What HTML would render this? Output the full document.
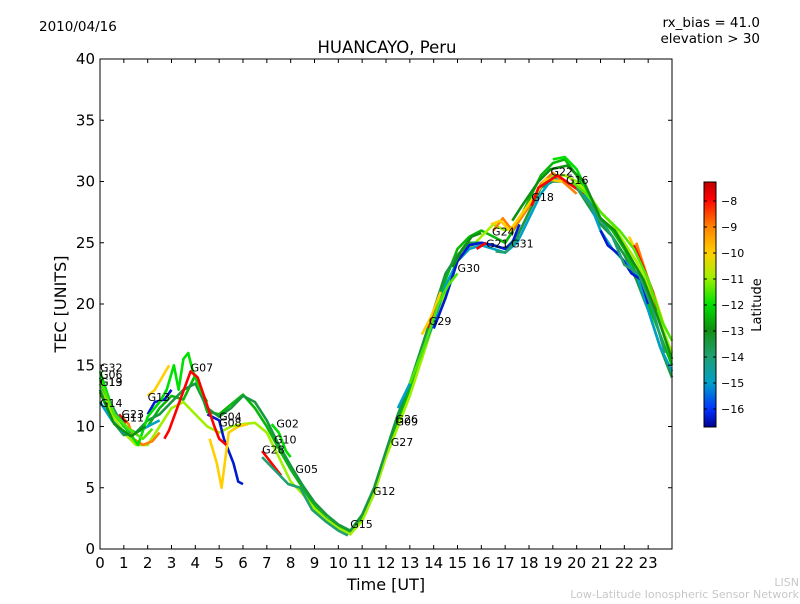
<!DOCTYPE html>
<html><head><meta charset="utf-8"><style>
body{margin:0;background:#fff;width:800px;height:600px;overflow:hidden;font-family:"DejaVu Sans","Liberation Sans",sans-serif}
svg text{font-family:"DejaVu Sans","Liberation Sans",sans-serif}
</style></head><body>
<svg id="chart" width="800" height="600" viewBox="0 0 800 600">
<defs><linearGradient id="cbg" x1="0" y1="1" x2="0" y2="0">
<stop offset="0" stop-color="#00008f"/><stop offset="0.07" stop-color="#0030ff"/><stop offset="0.18" stop-color="#00a0c8"/>
<stop offset="0.29" stop-color="#20a070"/><stop offset="0.40" stop-color="#109010"/><stop offset="0.50" stop-color="#00e000"/>
<stop offset="0.61" stop-color="#a0f000"/><stop offset="0.71" stop-color="#ffd000"/><stop offset="0.82" stop-color="#ff8000"/>
<stop offset="0.93" stop-color="#ff0000"/><stop offset="1" stop-color="#c00000"/></linearGradient></defs>
<text x="39" y="31" font-size="13.5">2010/04/16</text>
<text x="760" y="27" font-size="13.5" text-anchor="end">rx_bias = 41.0</text>
<text x="760" y="43" font-size="13.5" text-anchor="end">elevation &gt; 30</text>
<text x="387" y="53" font-size="16.5" text-anchor="middle">HUANCAYO, Peru</text>
<g id="marks"></g>
<g id="labels"></g>
<rect x="100" y="59" width="572" height="490" fill="none" stroke="#000" stroke-width="1"/>
<g id="axes"></g>
<text x="386" y="590" font-size="16" text-anchor="middle">Time [UT]</text>
<text transform="translate(66,304) rotate(-90)" font-size="16" text-anchor="middle">TEC [UNITS]</text>
<rect x="704" y="182" width="12" height="245" fill="url(#cbg)" stroke="#000" stroke-width="1"/>
<g id="cbticks"></g>
<text transform="translate(761,305) rotate(-90)" font-size="13" text-anchor="middle">Latitude</text>
<text x="799" y="586" font-size="11" fill="#c8c8c8" text-anchor="end">LISN</text>
<text x="799" y="598" font-size="11" fill="#c8c8c8" text-anchor="end">Low-Latitude Ionospheric Sensor Network</text>
</svg>
<script>
const xTicks=[0,1,2,3,4,5,6,7,8,9,10,11,12,13,14,15,16,17,18,19,20,21,22,23];
const yTicks=[0,5,10,15,20,25,30,35,40];
const cbTicks=[-8,-9,-10,-11,-12,-13,-14,-15,-16];
const satLats=[-12.5,-11,-13.5,-15,-9,-16.3,-12,-10,-8,-14,-11.5,-13];
const sat0=[[0,14],[0.5,11.5],[1,10],[1.5,9.5],[2,10],[2.5,11.5],[3,12.5],[3.5,12.2],[4,14.2],[4.5,11.2],[5,11],[5.5,11.8],[6,12.6],[6.5,11.5],[7,10],[7.5,8.2],[8,6.5],[8.5,5],[9,3.5],[9.5,2.5],[10,1.8],[10.5,1.3],[11,2.5],[11.5,4.8],[12,7.8],[12.5,10.5],[13,13],[13.5,16],[14,19],[14.5,22],[15,24.5],[15.5,25.5],[16,26],[16.5,25.5],[17,25],[17.5,26.5],[18,28.5],[18.5,30.5],[19,31.5],[19.5,31.8],[20,30.5],[20.5,28.5],[21,27],[21.5,26],[22,24.5],[22.5,22.5],[23,20],[23.5,17.5],[24,15]];
const sat1=[[0,13.5],[0.5,11],[1,9.5],[1.5,8.5],[2,8.5],[2.5,10],[3,11.5],[3.5,12],[4,11],[4.5,10],[5,9.5],[5.5,10],[6,10.2],[6.5,10.3],[7,9.5],[7.5,7.5],[8,5.5],[8.5,4.5],[9,3.3],[9.5,2.4],[10,1.7],[10.5,1.2],[11,2.3],[11.5,4.5],[12,7.5],[12.5,10],[13,12.5],[13.5,15.5],[14,18.5],[14.5,21],[15,23.5],[15.5,24.5],[16,25.5],[16.5,26.5],[17,26],[17.5,26.5],[18,28],[18.5,29.5],[19,30.5],[19.5,30.5],[20,30],[20.5,29],[21,27.5],[21.5,26.5],[22,25],[22.5,23.5],[23,21.5],[23.5,18.5],[24,16]];
const sat2=[[0,13],[0.5,10.5],[1,9.3],[1.5,9.5],[2,10.5],[2.5,11],[3,12],[3.5,13],[4,13.5],[4.5,11.5],[5,10.8],[5.5,11.5],[6,12.5],[6.5,12],[7,10.5],[7.5,8.5],[8,6.8],[8.5,5.2],[9,3.8],[9.5,2.8],[10,2],[10.5,1.5],[11,2.8],[11.5,5],[12,8],[12.5,11],[13,13.5],[13.5,16.5],[14,19.5],[14.5,22.5],[15,24],[15.5,25],[16,25],[16.5,24.8],[17,24.5],[17.5,25.5],[18,27.5],[18.5,29.5],[19,30],[19.5,30],[20,29.5],[20.5,28],[21,26.5],[21.5,25.5],[22,24],[22.5,22],[23,19.5],[23.5,16.5],[24,14]];
const sat3=[[0,12],[0.5,10.5],[1,9.5],[1.5,9.5],[2,10],[2.5,10.5],[12.5,11.5],[13,13.5],[13.5,16],[14,18.5],[14.5,21.5],[15,23.5],[15.5,24.5],[16,24.8],[16.5,24.5],[17,24.2],[17.5,25],[18,27],[18.5,29],[19,30.3],[19.5,30],[20,29.5],[20.5,28.5],[21,26],[21.5,24.5],[22,23.5],[22.5,22.5],[23,19.5],[23.5,16.5],[24,14.5]];
const sat4=[[0.9,10.8],[1.2,10.2],[1.4,9],[1.8,8.5],[2.2,8.8],[2.5,9.5],[14,19.5],[14.3,20.5],[16.5,26],[16.9,27],[17.3,26],[18.2,28.5],[18.5,29.8],[19,30.7],[20,29],[22.5,25],[23,22],[23.4,19.5]];
const sat5=[[2,11],[2.3,12],[2.7,12.2],[3,13],[4.5,11],[5,10.5],[5.2,9],[5.4,8],[5.6,7],[5.8,5.5],[6,5.3],[14,18],[14.5,20.5],[15,23.5],[15.5,24.8],[16,25],[16.5,24.8],[17,24.5],[17.3,25],[17.6,26.5],[21,26],[21.3,24.8],[21.8,24],[22.3,22.5],[22.7,22],[23,20]];
const sat6=[[0,14.5],[0.6,11],[1.1,9.8],[1.6,8.5],[2,10.8],[2.5,12],[2.8,13],[3.1,15],[3.3,13],[3.5,15.5],[3.7,16],[3.9,14.5],[4.2,13],[4.5,12],[7.2,10.2],[7.5,9.5],[7.8,8],[8,7.5],[19,31.8],[19.5,32],[20,31],[20.5,29]];
const sat7=[[2,12.5],[2.3,13],[2.6,14],[2.9,15],[4.6,9],[4.9,7],[5.1,5],[5.4,9.5],[5.8,10],[6.2,10.2],[13.5,17.5],[13.9,19],[14.3,21],[16.4,26.5],[16.8,26.8],[17.2,26],[18.3,29],[18.7,30.2],[19.4,30],[22.2,25.5],[22.8,23],[23.3,20.5],[23.7,18]];
const sat8=[[0.8,11],[1.1,10.3],[2.7,9],[2.9,9.7],[3.8,14.5],[4.1,14],[4.8,10],[5,9],[5.3,8.5],[6.8,8],[7.2,7],[7.6,6],[13.8,18],[14.2,20],[15.8,24.5],[16.2,25],[18.1,28],[18.4,29.5],[19.2,30.5],[20.3,29],[22.4,24.8],[22.8,23],[23.2,21],[23.4,19.5]];
const sat9=[[0,13.5],[0.7,11],[1.3,9.5],[6.8,7.5],[7.3,6.5],[7.9,5.3],[8.4,5],[8.9,3.2],[9.5,2.2],[10,1.5],[10.4,1.1],[16.6,24.3],[17,24.2],[17.6,25.5],[20,29.5],[20.6,28],[21.5,25.5],[22,23.2],[22.6,22.5],[23.2,19.5],[23.7,16]];
const sat10=[[0,13.8],[0.6,11],[1.2,9.8],[1.8,9],[2.2,9.8],[13,13.5],[13.6,16.5],[14.2,20],[14.6,21.5],[15,22.5],[19.8,30],[20.4,29],[21,27.5],[21.8,26],[22.4,24.5],[23,22],[23.6,18.5],[24,17]];
const sat11=[[0,12.8],[0.6,10.2],[1.3,9.2],[1.9,10],[14.8,23],[15.2,24.5],[15.6,25.5],[16,25.8],[17.3,26.8],[17.7,28],[18.4,30],[18.9,31],[19.6,31.3],[20.3,30],[21,27],[21.6,26],[22.2,24],[22.8,22],[23.3,19.5],[24,15.5]];
const satData=[sat0,sat1,sat2,sat3,sat4,sat5,sat6,sat7,sat8,sat9,sat10,sat11];
const labelNames=["G32","G06","G19","G13","G14","G23","G11","G13","G07","G04","G08","G02","G10","G28","G05","G15","G12","G27","G26","G09","G29","G30","G21","G24","G31","G18","G22","G16"];
const labelHours=[0,0,0,0,0,0.9,0.9,2.0,3.8,5.0,5.0,7.4,7.3,6.8,8.2,10.5,11.45,12.2,12.4,12.4,13.8,15.0,16.2,16.45,17.25,18.1,18.9,19.55];
const labelTec=[14.5,13.9,13.3,13.3,11.6,10.7,10.4,12.1,14.5,10.5,10.0,9.9,8.6,7.8,6.2,1.7,4.4,8.4,10.3,10.1,18.3,22.6,24.6,25.6,24.6,28.4,30.5,29.8];
const X=h=>100+h*572/24, Y=v=>549-v*490/40, CY=l=>201+(l+8)*(-26);
const stops=[[-16.7,[0,0,143]],[-16,[0,48,255]],[-15,[0,160,200]],[-14,[32,160,112]],[-13,[16,144,16]],[-12,[0,224,0]],[-11,[160,240,0]],[-10,[255,208,0]],[-9,[255,128,0]],[-8,[255,0,0]],[-7.3,[192,0,0]]];
function col(l){for(let i=0;i<stops.length-1;i++){const a=stops[i],b=stops[i+1];if(l<=b[0]||i==stops.length-2){const t=Math.max(0,Math.min(1,(l-a[0])/(b[0]-a[0])));return 'rgb('+a[1].map((c,j)=>Math.round(c+(b[1][j]-c)*t)).join(',')+')';}}}
const NS='http://www.w3.org/2000/svg';
function mk(t,p,a){const e=document.createElementNS(NS,t);for(const k in a)e.setAttribute(k,a[k]);p.appendChild(e);return e;}
const marks=document.getElementById('marks');
satData.forEach((d,i)=>{
  let segs=[[]];
  d.forEach((p,j)=>{if(j>0&&p[0]-d[j-1][0]>1.2)segs.push([]);segs[segs.length-1].push(p);});
  segs.forEach(s=>{const e=mk('polyline',marks,{points:s.map(p=>X(p[0]).toFixed(1)+','+Y(p[1]).toFixed(1)).join(' '),fill:'none',stroke:col(satLats[i]),'stroke-width':2.6,'stroke-linejoin':'round'});
  
  });
});
const lg=document.getElementById('labels');
labelNames.forEach((n,i)=>{const e=mk('text',lg,{x:X(labelHours[i]),y:Y(labelTec[i]),'font-size':11});e.textContent=n;

});
const ax=document.getElementById('axes');
xTicks.forEach(t=>{mk('line',ax,{x1:X(t),x2:X(t),y1:549,y2:545,stroke:'#000'});mk('line',ax,{x1:X(t),x2:X(t),y1:59,y2:63,stroke:'#000'});
const e=mk('text',ax,{x:X(t),y:568,'font-size':15,'text-anchor':'middle'});e.textContent=t;

});
yTicks.forEach(t=>{mk('line',ax,{x1:100,x2:104,y1:Y(t),y2:Y(t),stroke:'#000'});mk('line',ax,{x1:672,x2:668,y1:Y(t),y2:Y(t),stroke:'#000'});
const e=mk('text',ax,{x:95,y:Y(t)+5,'font-size':15,'text-anchor':'end'});e.textContent=t;

});
const cb=document.getElementById('cbticks');
cbTicks.forEach(t=>{mk('line',cb,{x1:704,x2:707,y1:CY(t),y2:CY(t),stroke:'#000'});mk('line',cb,{x1:713,x2:716,y1:CY(t),y2:CY(t),stroke:'#000'});
const e=mk('text',cb,{x:721,y:CY(t)+4,'font-size':11});e.textContent='\u2212'+Math.abs(t);

});
</script>
</body></html>
